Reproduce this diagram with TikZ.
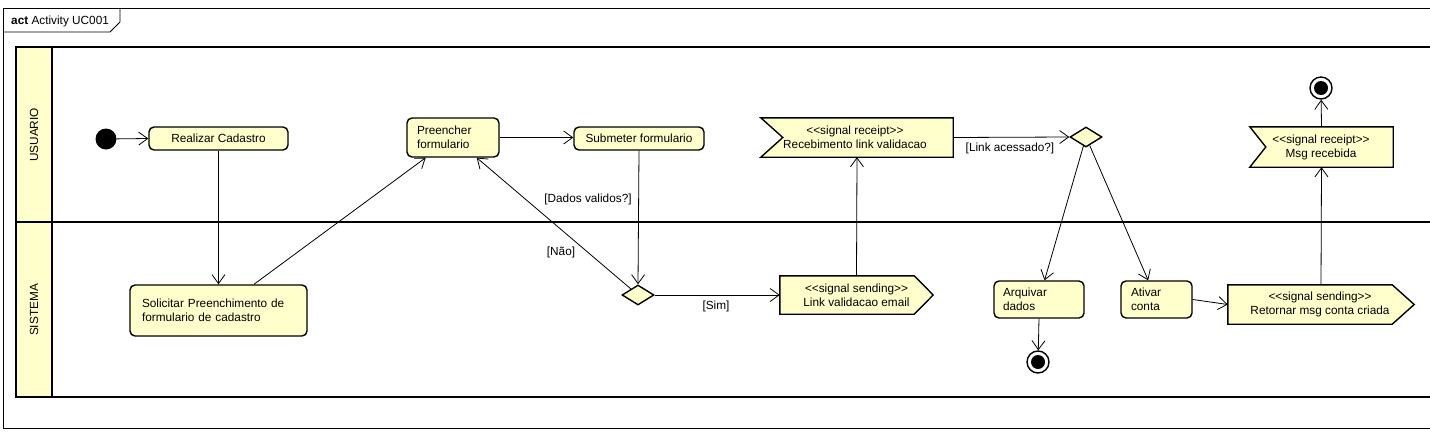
\documentclass[tikz,border=0pt]{standalone}
\usepackage{fontspec}
\setmainfont{Liberation Sans}
\usetikzlibrary{arrows.meta,shapes.geometric,calc}
\definecolor{umlfill}{RGB}{255,255,204}
\begin{document}
\begin{tikzpicture}[x=1pt,y=-1pt,
  every node/.style={font=\fontsize{11.8}{14}\selectfont},
  action/.style={draw, line width=1.4pt, fill=umlfill, rounded corners=5pt, inner sep=0pt},
  actleft/.style={action, align=left, inner xsep=#1},
  sigbox/.style={inner sep=0pt, align=center},
  decision/.style={diamond, draw, line width=1.4pt, fill=umlfill, inner sep=0pt, minimum width=32pt, minimum height=20pt},
  flow/.style={line width=0.8pt, -{Straight Barb[length=9pt,width=13pt,line width=0.8pt]}},
  guard/.style={inner sep=1pt},
  lane/.style={line width=2pt},
  final/.style={circle, draw, line width=1.4pt, fill=white, minimum size=22pt, inner sep=0pt},
  sigshape/.style={draw, line width=1.4pt, fill=umlfill, line join=miter}
]
\useasboundingbox (0,0) rectangle (1430,434);
% outer frame
\draw[line width=0.8pt] (1430,8) -- (3,8) -- (3,428) -- (1430,428);
\draw[line width=0.8pt] (3,32) -- (110,32) -- (120,22) -- (120,8);
\node[anchor=west, inner sep=0pt] (title) at (11,21) {\textbf{act} Activity UC001};
% swimlanes
\fill[umlfill] (16,47) rectangle (52,397);
\draw[lane] (1430,47) -- (16,47) -- (16,397) -- (1430,397);
\draw[lane] (16,222) -- (1430,222);
\draw[lane] (52,47) -- (52,397);
\node[rotate=90] (lusr) at (34,135) {USUARIO};
\node[rotate=90] (lsys) at (34,310) {SISTEMA};

% nodes
\node[circle, fill=black, minimum size=21pt, inner sep=0pt] (init) at (106,139) {};
\node[action, minimum width=139pt, minimum height=23pt] (real) at (218.5,138.5) {Realizar Cadastro};
\node[actleft=12pt, text width=153pt, minimum height=51pt] (sol) at (218.5,310.5) {Solicitar Preenchimento de\\formulario de cadastro};
\node[actleft=10pt, text width=72pt, minimum height=39pt] (pre) at (453,137.5) {Preencher\\formulario};
\node[action, minimum width=130pt, minimum height=23pt] (sub) at (639,138.5) {Submeter formulario};
\node[decision] (d1) at (638,295) {};
\node[sigbox, minimum width=153pt, minimum height=38pt] (lve) at (856.5,295) {};
\draw[sigshape] (lve.north west) -- ($(lve.north east)+(-19,0)$) -- (lve.east) -- ($(lve.south east)+(-19,0)$) -- (lve.south west) -- cycle;
\node[sigbox] (lvet) at (lve) {{<}{<}signal sending{>}{>}\\Link validacao email};
\node[sigbox, minimum width=192pt, minimum height=39pt] (rec) at (857,137.5) {};
\draw[sigshape] (rec.north west) -- (rec.north east) -- (rec.south east) -- (rec.south west) -- ($(rec.west)+(22,0)$) -- cycle;
\node[sigbox] (rect) at (855,137.5) {{<}{<}signal receipt{>}{>}\\Recebimento link validacao};
\node[decision] (d2) at (1086,137) {};
\node[actleft=9pt, text width=72pt, minimum height=37pt] (arq) at (1039,299.5) {Arquivar\\dados};
\node[final] (fin1) at (1038,362) {};
\fill (fin1) circle (7pt);
\node[actleft=10pt, text width=51pt, minimum height=37pt] (ati) at (1156.5,299.5) {Ativar\\conta};
\node[sigbox, minimum width=186pt, minimum height=39pt] (ret) at (1321,304.5) {};
\draw[sigshape] (ret.north west) -- ($(ret.north east)+(-22,0)$) -- (ret.east) -- ($(ret.south east)+(-22,0)$) -- (ret.south west) -- cycle;
\node[sigbox] (rett) at (1320,304.5) {{<}{<}signal sending{>}{>}\\Retornar msg conta criada};
\node[sigbox, minimum width=143pt, minimum height=40pt] (msg) at (1321.5,147) {};
\draw[sigshape] (msg.north west) -- (msg.north east) -- (msg.south east) -- (msg.south west) -- ($(msg.west)+(16,0)$) -- cycle;
\node[sigbox] (msgt) at (1321,147) {{<}{<}signal receipt{>}{>}\\Msg recebida};
\node[final] (fin2) at (1321,88) {};
\fill (fin2) circle (7pt);

% flows
\draw[flow] (init) -- (real.west);
\draw[flow] (real.south) -- (sol.north);
\draw[flow] (sol) -- (pre);
\draw[flow] (pre.east) -- (pre.east -| sub.west);
\draw[flow] (sub.south) -- (d1.north);
\draw[flow] (d1) -- (pre);
\draw[flow] (d1.east) -- (lve.west);
\draw[flow] (lve.north) -- (rec.south);
\draw[flow] (rec.east) -- (d2.west);
\draw[flow] (d2) -- (arq);
\draw[flow] (d2) -- (ati);
\draw[flow] (arq.south) -- (fin1);
\draw[flow] (ati.east) -- (ret.west);
\draw[flow] (ret.north) -- (msg.south);
\draw[flow] (msg.north) -- (fin2);

% guards
\node[guard] (gdv) at (588,199) {[Dados validos?]};
\node[guard] (gnao) at (561,252) {[Não]};
\node[guard] (gsim) at (716,306) {[Sim]};
\node[guard] (glink) at (1010,148) {[Link acessado?]};
\end{tikzpicture}
\end{document}
